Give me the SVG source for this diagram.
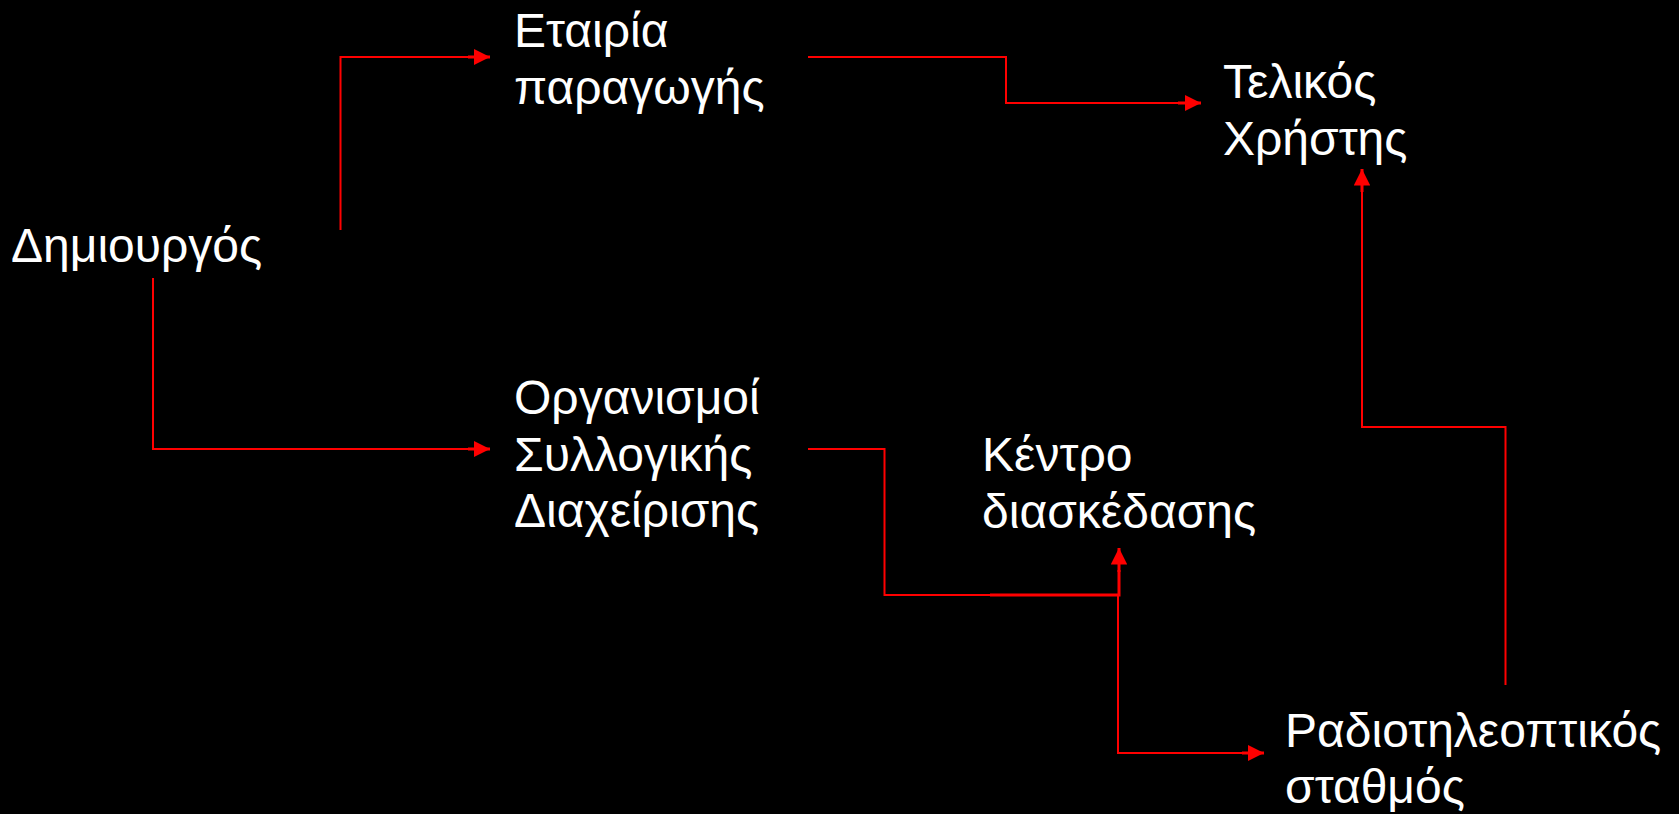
<svg xmlns="http://www.w3.org/2000/svg" width="1679" height="814" viewBox="0 0 1679 814">
<style>
.t{font-family:"Liberation Sans",Arial,sans-serif;font-size:48px;fill:#ffffff}
.c{fill:none;stroke:#ff0000;stroke-width:2}
.a{fill:none;stroke:#ff0000;stroke-width:3}
</style>
<defs>
<marker id="ah" viewBox="0 0 10 10" refX="10" refY="5" markerWidth="5.5" markerHeight="5.5" orient="auto" markerUnits="strokeWidth">
<path d="M0,0 L10,5 L0,10 Z" fill="#ff0000"/>
</marker>
</defs>
<rect x="0" y="0" width="1679" height="814" fill="#000000"/>
<g id="connectors">
<polyline class="c" points="340.5,230 340.5,57 470,57"/>
<line class="a" x1="468" y1="57" x2="490" y2="57" marker-end="url(#ah)"/>
<polyline class="c" points="808,57 1006,57 1006,103 1180,103"/>
<line class="a" x1="1178" y1="103" x2="1201" y2="103" marker-end="url(#ah)"/>
<polyline class="c" points="1505.5,685 1505.5,427 1362,427 1362,190"/>
<line class="a" x1="1362" y1="192" x2="1362" y2="169" marker-end="url(#ah)"/>
<polyline class="c" points="153,278 153,449 470,449"/>
<line class="a" x1="468" y1="449" x2="490" y2="449" marker-end="url(#ah)"/>
<polyline class="c" points="808,449 884.5,449 884.5,595 992,595"/>
<polyline class="a" points="990,595 1119,595 1119,570"/>
<line class="a" x1="1119" y1="572" x2="1119" y2="548" marker-end="url(#ah)"/>
<polyline class="c" points="1118,595 1118,753 1244,753"/>
<line class="a" x1="1242" y1="753" x2="1264" y2="753" marker-end="url(#ah)"/>
</g>
<g id="n-dimiourgos"><text class="t" x="11" y="262">Δημιουργός</text></g>
<g id="n-etairia"><text class="t" x="514" y="47">Εταιρία</text><text class="t" x="514" y="104">παραγωγής</text></g>
<g id="n-telikos"><text class="t" x="1223" y="98">Τελικός</text><text class="t" x="1223" y="155">Χρήστης</text></g>
<g id="n-organismoi"><text class="t" x="514" y="414">Οργανισμοί</text><text class="t" x="514" y="471">Συλλογικής</text><text class="t" x="514" y="527">Διαχείρισης</text></g>
<g id="n-kentro"><text class="t" x="982" y="471">Κέντρο</text><text class="t" x="982" y="528">διασκέδασης</text></g>
<g id="n-radio"><text class="t" x="1285" y="747">Ραδιοτηλεοπτικός</text><text class="t" x="1285" y="803">σταθμός</text></g>
</svg>
